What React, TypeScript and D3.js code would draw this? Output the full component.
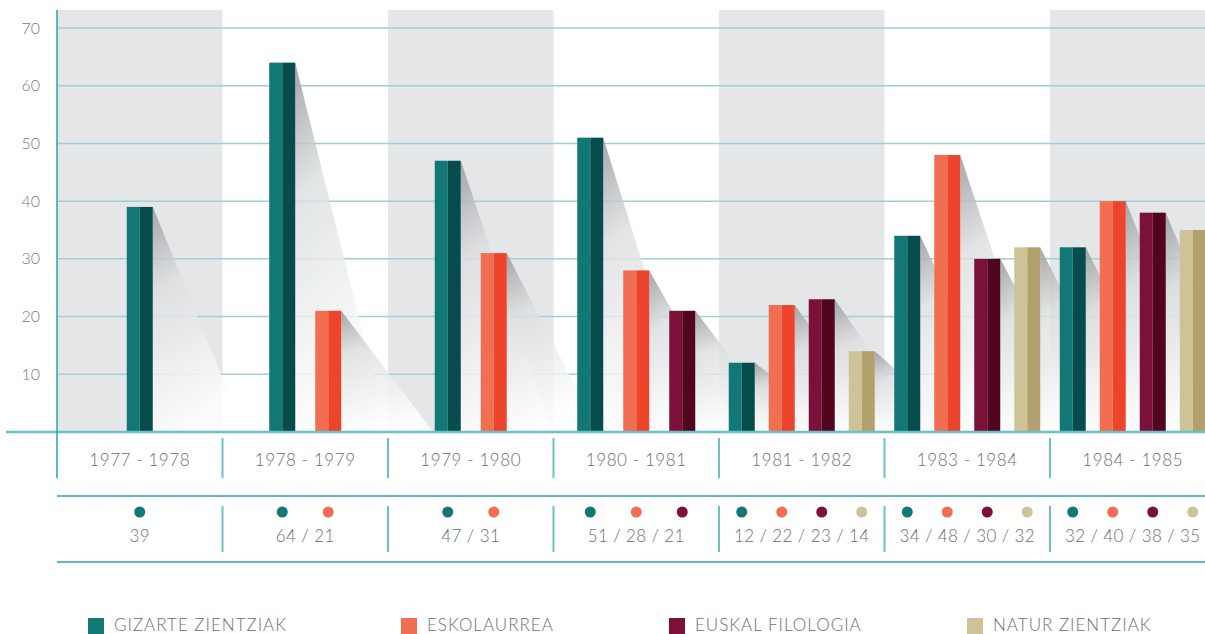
import { useEffect, useRef } from "react";
import * as d3 from "d3";

const years = [
  "1977 - 1978",
  "1978 - 1979",
  "1979 - 1980",
  "1980 - 1981",
  "1981 - 1982",
  "1983 - 1984",
  "1984 - 1985",
];
const series = [
  "GIZARTE ZIENTZIAK",
  "ESKOLAURREA",
  "EUSKAL FILOLOGIA",
  "NATUR ZIENTZIAK",
];
// values per year, in series order (null = no group yet)
const gizarte = [39, 64, 47, 51, 12, 34, 32];
const eskolaurrea = [null, 21, 31, 28, 22, 48, 40];
const euskal = [null, null, null, 21, 23, 30, 38];
const natur = [null, null, null, null, 14, 32, 35];
const yTicks = [10, 20, 30, 40, 50, 60, 70];

const lightColors = ["#127876", "#f26e50", "#7b103a", "#cdc397"];
const darkColors = ["#074c4c", "#ec452b", "#4f061e", "#b2a06d"];

const W = 1205;
const H = 634;

const App = () => {
  const ref = useRef<HTMLDivElement>(null);

  useEffect(() => {
    document.body.style.margin = "0";
    const root = d3.select(ref.current);
    root.selectAll("*").remove();

    const svg = root
      .append("svg")
      .attr("width", W)
      .attr("height", H)
      .style("display", "block")
      .style("font-family", "Lato, 'Open Sans', sans-serif");

    const cols = [gizarte, eskolaurrea, euskal, natur];
    const groups = years.map((yr, i) =>
      cols
        .map((c, s) => ({ s, v: c[i] }))
        .filter((d) => d.v !== null) as { s: number; v: number }[]
    );

    const axisX = 57;
    const colW = 165.5;
    const x = d3
      .scaleBand()
      .domain(years)
      .range([axisX, axisX + colW * years.length]);
    const y = d3.scaleLinear().domain([0, 70]).range([432, 28]);
    const base = y(0);
    const barW = 26;

    const inner = (i: number) => {
      const n = groups[i].length;
      const step = Math.min(46, 160 / n);
      const c = x(years[i])! + x.bandwidth() / 2;
      return d3
        .scaleBand<number>()
        .domain(groups[i].map((d) => d.s))
        .range([c - (n * step) / 2, c + (n * step) / 2])
        .paddingInner(1 - barW / step)
        .paddingOuter((1 - barW / step) / 2);
    };

    // alternating bands
    years.forEach((yr, i) => {
      if (i % 2 === 0) {
        svg
          .append("rect")
          .attr("x", x(yr)!)
          .attr("y", 10)
          .attr("width", x.bandwidth())
          .attr("height", base - 10)
          .attr("fill", "#e5e6e8");
      }
    });

    // grid
    svg
      .append("g")
      .selectAll("line")
      .data(yTicks)
      .join("line")
      .attr("x1", axisX)
      .attr("x2", W)
      .attr("y1", (d) => y(d))
      .attr("y2", (d) => y(d))
      .attr("stroke", "#9fd0d5")
      .attr("stroke-width", 1.5);

    svg
      .append("g")
      .selectAll("text")
      .data(yTicks)
      .join("text")
      .attr("x", 40)
      .attr("y", (d) => y(d))
      .attr("dy", "0.35em")
      .attr("text-anchor", "end")
      .attr("font-size", 16)
      .attr("font-weight", 300)
      .attr("fill", "#7a7a7a")
      .text((d) => d);

    // shadows
    const defs = svg.append("defs");
    const grad = defs
      .append("linearGradient")
      .attr("id", "shadow")
      .attr("x1", 0)
      .attr("y1", 0)
      .attr("x2", 0.25)
      .attr("y2", 1);
    grad.append("stop").attr("offset", 0).attr("stop-color", "#9a9b9e").attr("stop-opacity", 0.9);
    grad.append("stop").attr("offset", 0.35).attr("stop-color", "#dcdddf").attr("stop-opacity", 0.8);
    grad.append("stop").attr("offset", 1).attr("stop-color", "#ffffff").attr("stop-opacity", 0.85);

    groups.forEach((g, i) => {
      const bx = inner(i);
      g.forEach((d) => {
        const xr = bx(d.s)! + barW;
        const yt = y(d.v);
        svg
          .append("path")
          .attr("d", `M${xr},${yt} L${xr + 92},${base} L${xr},${base} Z`)
          .attr("fill", "url(#shadow)");
      });
    });

    // bars
    groups.forEach((g, i) => {
      const bx = inner(i);
      g.forEach((d) => {
        const x0 = bx(d.s)!;
        svg
          .append("rect")
          .attr("x", x0)
          .attr("y", y(d.v))
          .attr("width", barW / 2)
          .attr("height", base - y(d.v))
          .attr("fill", lightColors[d.s]);
        svg
          .append("rect")
          .attr("x", x0 + barW / 2)
          .attr("y", y(d.v))
          .attr("width", barW / 2)
          .attr("height", base - y(d.v))
          .attr("fill", darkColors[d.s]);
      });
    });

    // axes lines
    svg
      .append("line")
      .attr("x1", 6)
      .attr("x2", W)
      .attr("y1", base)
      .attr("y2", base)
      .attr("stroke", "#6cbfc5")
      .attr("stroke-width", 2.5);
    svg
      .append("line")
      .attr("x1", axisX)
      .attr("x2", axisX)
      .attr("y1", 10)
      .attr("y2", 478)
      .attr("stroke", "#2aa2ac")
      .attr("stroke-width", 1.5);

    years.slice(1).forEach((yr) => {
      svg
        .append("line")
        .attr("x1", x(yr)!)
        .attr("x2", x(yr)!)
        .attr("y1", 438)
        .attr("y2", 478)
        .attr("stroke", "#6cbfc5")
        .attr("stroke-width", 2);
      svg
        .append("line")
        .attr("x1", x(yr)!)
        .attr("x2", x(yr)!)
        .attr("y1", 506)
        .attr("y2", 552)
        .attr("stroke", "#6cbfc5")
        .attr("stroke-width", 2);
    });

    svg
      .append("g")
      .selectAll("text")
      .data(years)
      .join("text")
      .attr("x", (d) => x(d)! + x.bandwidth() / 2)
      .attr("y", 466)
      .attr("text-anchor", "middle")
      .attr("font-size", 17)
      .attr("font-weight", 300)
      .attr("letter-spacing", 0.6)
      .attr("fill", "#6e6e6e")
      .text((d) => d);

    // table
    [496, 562].forEach((ly) => {
      svg
        .append("line")
        .attr("x1", axisX)
        .attr("x2", W)
        .attr("y1", ly)
        .attr("y2", ly)
        .attr("stroke", "#5db8bf")
        .attr("stroke-width", 2);
    });

    groups.forEach((g, i) => {
      const bx = inner(i);
      g.forEach((d) => {
        svg
          .append("circle")
          .attr("cx", bx(d.s)! + barW / 2)
          .attr("cy", 512)
          .attr("r", 5.5)
          .attr("fill", lightColors[d.s]);
      });
      svg
        .append("text")
        .attr("x", x(years[i])! + x.bandwidth() / 2)
        .attr("y", 542)
        .attr("text-anchor", "middle")
        .attr("font-size", 17)
        .attr("font-weight", 300)
        .attr("letter-spacing", 0.4)
        .attr("fill", "#6e6e6e")
        .text(g.map((d) => d.v).join(" / "));
    });

    // legend
    const legendX = [88, 401, 669, 967];
    series.forEach((name, s) => {
      svg
        .append("rect")
        .attr("x", legendX[s])
        .attr("y", 618)
        .attr("width", 16)
        .attr("height", 16)
        .attr("fill", lightColors[s]);
      svg
        .append("text")
        .attr("x", legendX[s] + 26)
        .attr("y", 631)
        .attr("font-size", 17)
        .attr("font-weight", 300)
        .attr("letter-spacing", 1)
        .attr("fill", "#6e6e6e")
        .text(name);
    });
  }, []);

  return <div ref={ref} />;
};

export default App;
